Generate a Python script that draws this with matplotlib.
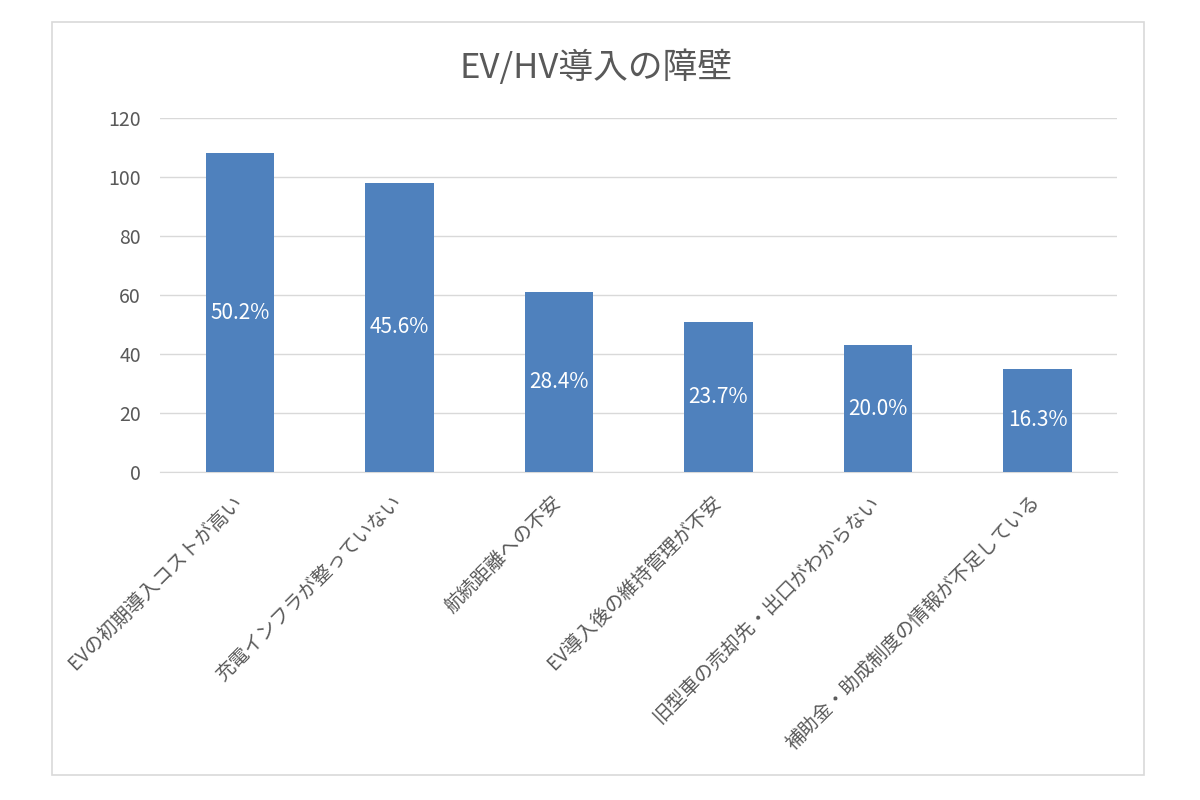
import matplotlib.pyplot as plt
from matplotlib.patches import Rectangle
from matplotlib.transforms import ScaledTranslation

plt.rcParams['font.family'] = ['Noto Sans CJK JP', 'DejaVu Sans']

# データ
項目 = ['EVの初期導入コストが高い', '充電インフラが整っていない', '航続距離への不安',
      'EV導入後の維持管理が不安', '旧型車の売却先・出口がわからない',
      '補助金・助成制度の情報が不足している']
件数 = [108, 98, 61, 51, 43, 35]
割合 = ['50.2%', '45.6%', '28.4%', '23.7%', '20.0%', '16.3%']
目盛 = [0, 20, 40, 60, 80, 100, 120]

灰色 = '#595959'

fig = plt.figure(figsize=(12, 8), dpi=100)
ax = fig.add_axes([0.1335, 0.41, 0.7975, 0.4425])

# 外枠
fig.patches.append(Rectangle((52 / 1200, 1 - 775 / 800), 1092 / 1200, 753 / 800,
                             transform=fig.transFigure, fill=False,
                             edgecolor='#D9D9D9', linewidth=1.2))

x = list(range(len(項目)))
bars = ax.bar(x, 件数, width=0.43, color='#4F81BD', zorder=3)

for b, t in zip(bars, 割合):
    ax.text(b.get_x() + b.get_width() / 2, b.get_height() / 2, t,
            ha='center', va='center', color='white', fontsize=15, zorder=4)

ax.set_xlim(-0.5, len(項目) - 0.5)
ax.set_ylim(0, 120)
ax.set_yticks(目盛)
ax.tick_params(axis='y', length=0, labelsize=14, labelcolor=灰色, pad=14)
ax.set_xticks(x)
ax.set_xticklabels(項目, rotation=45, ha='right', rotation_mode='anchor',
                   fontsize=14, color=灰色)
ax.tick_params(axis='x', length=0, pad=14)
# ラベルを少し左へ
offset = ScaledTranslation(-8 / 100, 0, fig.dpi_scale_trans)
for lbl in ax.get_xticklabels():
    lbl.set_transform(lbl.get_transform() + offset)
ax.grid(axis='y', color='#D9D9D9', linewidth=1, zorder=0)
for s in ['top', 'right', 'left']:
    ax.spines[s].set_visible(False)
ax.spines['bottom'].set_color('#D9D9D9')

fig.text(0.497, 0.915, 'EV/HV導入の障壁', ha='center', va='center',
         fontsize=25, color=灰色)

plt.savefig('out.png')
